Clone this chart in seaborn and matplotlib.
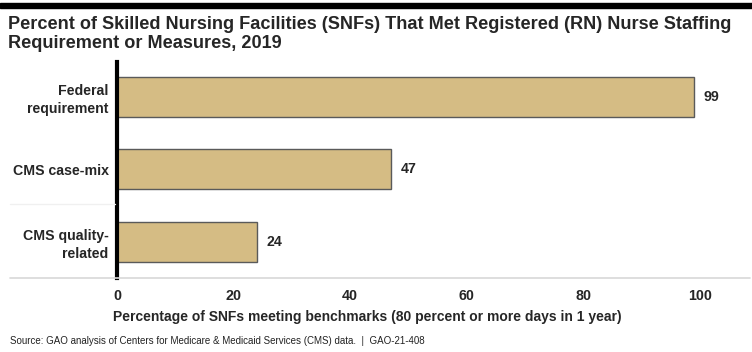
import matplotlib
matplotlib.use('Agg')
import matplotlib.pyplot as plt
import seaborn as sns
import pandas as pd
from matplotlib.lines import Line2D
from matplotlib.patches import Rectangle

categories = ['Federal\nrequirement', 'CMS case-mix', 'CMS quality-\nrelated']
values = [99, 47, 24]
xticks = [0, 20, 40, 60, 80, 100]

title = ('Percent of Skilled Nursing Facilities (SNFs) That Met Registered (RN) Nurse Staffing\n'
         'Requirement or Measures, 2019')
xlabel = 'Percentage of SNFs meeting benchmarks (80 percent or more days in 1 year)'
source = 'Source: GAO analysis of Centers for Medicare & Medicaid Services (CMS) data.  |  GAO-21-408'

sns.set_style('white')
plt.rcParams['font.family'] = ['Liberation Sans', 'DejaVu Sans']

df = pd.DataFrame({'cat': categories, 'val': values})

W, H = 752, 352
fig = plt.figure(figsize=(W / 100, H / 100), dpi=100)
ax = fig.add_axes([117 / W, 1 - 278 / H, (750 - 117) / W, (278 - 62) / H])

sns.barplot(data=df, x='val', y='cat', ax=ax, color='#D5BC84', saturation=1,
            width=0.55, edgecolor='#5a5a5a', linewidth=1)

ax.set_xlim(0, (750 - 117) / 5.83)
ax.set_ylim(2.5, -0.48)
ax.set_xticks(xticks)
ax.set_xticklabels([str(t) for t in xticks], fontweight='bold', fontsize=10.3)
ax.set_yticks(range(len(categories)))
ax.set_yticklabels(categories, fontweight='bold', fontsize=10.2, linespacing=1.3)
ax.tick_params(axis='both', length=0)
ax.tick_params(axis='x', pad=8)
ax.tick_params(axis='y', pad=6)
ax.set_xlabel('')
ax.set_ylabel('')

for s in ['top', 'right', 'bottom']:
    ax.spines[s].set_visible(False)
ax.spines['left'].set_color('black')
ax.spines['left'].set_linewidth(3)

for i, v in enumerate(values):
    ax.text(v + 1.6, i, str(v), va='center', ha='left', fontweight='bold', fontsize=10.2)

# top black band and bottom rule
fig.patches.append(Rectangle((0, 1 - 8 / H), 1, 5 / H, transform=fig.transFigure,
                             color='black', zorder=5))
fig.lines.append(Line2D([10 / W, 750 / W], [1 - 278 / H] * 2, transform=fig.transFigure,
                        color='#d8d8d8', linewidth=1.2))
fig.lines.append(Line2D([10 / W, 115 / W], [1 - 204 / H] * 2, transform=fig.transFigure,
                        color='#f0f0f0', linewidth=1))

fig.text(8 / W, 1 - 16 / H, title, fontweight='bold', fontsize=13.1, va='top', ha='left',
         linespacing=1.15)
fig.text(113 / W, 1 - 317 / H, xlabel, fontweight='bold', fontsize=10.0, va='center', ha='left')
fig.text(10 / W, 1 - 341 / H, source, fontsize=7.0, va='center', ha='left', color='#222222')

fig.savefig('out.png', dpi=100)
